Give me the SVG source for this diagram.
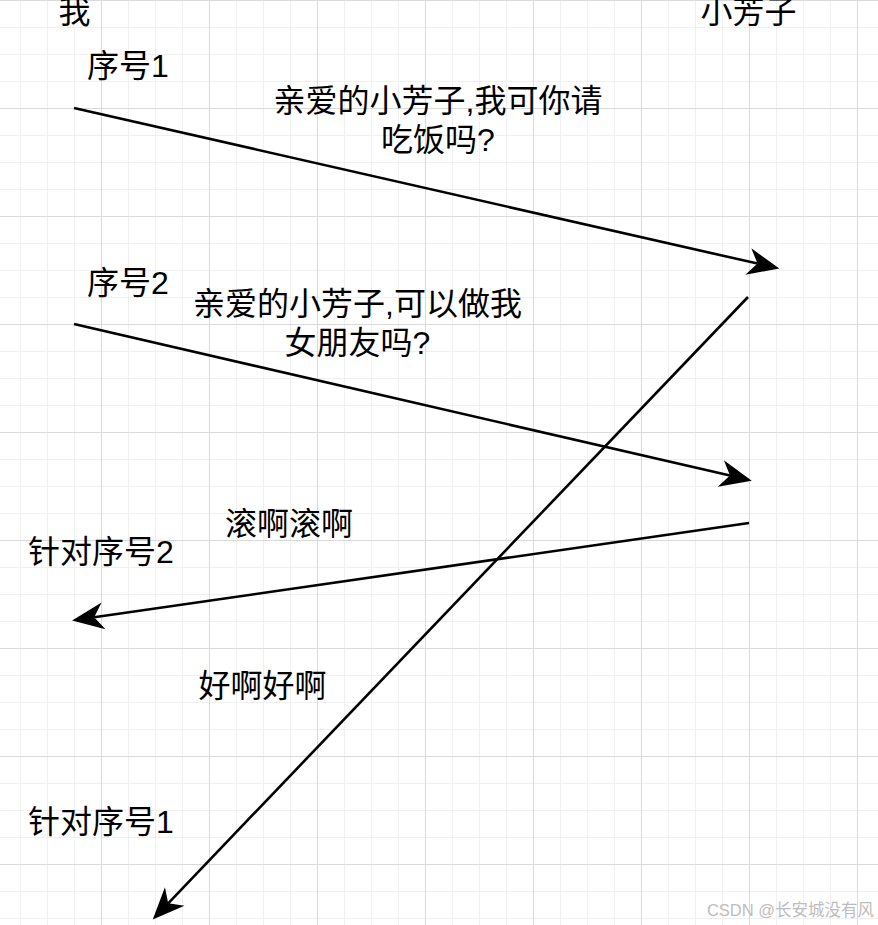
<svg xmlns="http://www.w3.org/2000/svg" width="878" height="925" viewBox="0 0 878 925">
<style>
.t{font-family:"Liberation Sans","Noto Sans CJK SC",sans-serif;font-size:32px;fill:#000}
.c{text-anchor:middle}
.ln{stroke:#000;stroke-width:2.6;fill:none}
.wm{font-family:"Liberation Sans","Noto Sans CJK SC",sans-serif;font-size:16.5px;fill:#bdbdbd;text-anchor:end}
</style>
<defs>
<pattern id="grid" patternUnits="userSpaceOnUse" x="101" y="0" width="108" height="108">
<rect width="108" height="108" fill="#fff"/>
<rect x="27" y="0" width="1" height="108" fill="#f0f0f0"/>
<rect x="54" y="0" width="1" height="108" fill="#f0f0f0"/>
<rect x="81" y="0" width="1" height="108" fill="#f0f0f0"/>
<rect x="0" y="27" width="108" height="1" fill="#f0f0f0"/>
<rect x="0" y="54" width="108" height="1" fill="#f0f0f0"/>
<rect x="0" y="81" width="108" height="1" fill="#f0f0f0"/>
<rect x="0" y="0" width="1" height="108" fill="#dadada"/>
<rect x="0" y="0" width="108" height="1" fill="#dadada"/>
</pattern>
<marker id="ah" markerUnits="userSpaceOnUse" markerWidth="40" markerHeight="40" viewBox="-12 -14 34 28" refX="0" refY="0" orient="auto" overflow="visible">
<path d="M19,0 L-8,-11.5 L0,0 L-8,11.5 Z" fill="#000"/>
</marker>
</defs>
<rect width="878" height="925" fill="url(#grid)"/>

<g id="connectors">
<line class="ln" x1="74" y1="108" x2="757.5" y2="263.6" marker-end="url(#ah)"/>
<line class="ln" x1="74" y1="324" x2="730" y2="475.6" marker-end="url(#ah)"/>
<line class="ln" x1="749" y1="523" x2="94.2" y2="617.3" marker-end="url(#ah)"/>
<line class="ln" x1="748" y1="297" x2="168.2" y2="903.3" marker-end="url(#ah)"/>
</g>

<g id="me"><text class="t c" x="74.5" y="23">我</text></g>
<g id="xiaofangzi"><text class="t c" x="748.5" y="23">小芳子</text></g>
<g id="seq1"><text class="t" x="87" y="77">序号1</text></g>
<g id="msg1"><text class="t c" x="438" y="112">亲爱的小芳子,我可你请</text><text class="t c" x="438" y="151">吃饭吗?</text></g>
<g id="seq2"><text class="t" x="87" y="294">序号2</text></g>
<g id="msg2"><text class="t c" x="357.5" y="315">亲爱的小芳子,可以做我</text><text class="t c" x="357.5" y="354">女朋友吗?</text></g>
<g id="reply2"><text class="t c" x="289" y="535">滚啊滚啊</text></g>
<g id="forseq2"><text class="t" x="28" y="563">针对序号2</text></g>
<g id="reply1"><text class="t c" x="262.5" y="697">好啊好啊</text></g>
<g id="forseq1"><text class="t" x="28" y="833">针对序号1</text></g>
<g id="watermark"><text class="wm" x="874" y="916">CSDN @长安城没有风</text></g>
</svg>
